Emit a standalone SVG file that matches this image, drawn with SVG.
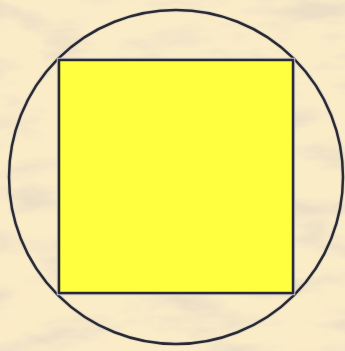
<svg xmlns="http://www.w3.org/2000/svg" width="345" height="351" viewBox="0 0 345 351">
  <defs>
    <filter id="parch" x="0" y="0" width="100%" height="100%">
      <feTurbulence type="fractalNoise" baseFrequency="0.012 0.035" numOctaves="4" seed="7" result="n"/>
      <feColorMatrix in="n" type="matrix" values="0 0 0 0 0.84  0 0 0 0 0.74  0 0 0 0 0.56  0 0 0 -3.2 1.75" result="c"/>
      <feComposite in="c" in2="SourceGraphic" operator="in"/>
    </filter>
    <style>
      .outline { fill: none; stroke: #2a2a30; stroke-width: 2.5; }
      .halo { fill: none; stroke: #c8c8cc; stroke-width: 4.5; }
      .sq { fill: #ffff40; }
    </style>
  </defs>
  <rect width="345" height="351" fill="#fbecc8"/>
  <rect width="345" height="351" fill="#fbecc8" filter="url(#parch)"/>
  <g id="circle">
    <circle cx="176" cy="177" r="167" class="halo" stroke-opacity="0.5"/>
    <circle cx="176" cy="177" r="167" class="outline"/>
  </g>
  <g id="square">
    <rect x="59" y="60" width="234" height="233" class="halo"/>
    <rect x="59" y="60" width="234" height="233" class="sq"/>
    <rect x="59" y="60" width="234" height="233" class="outline"/>
  </g>
</svg>
